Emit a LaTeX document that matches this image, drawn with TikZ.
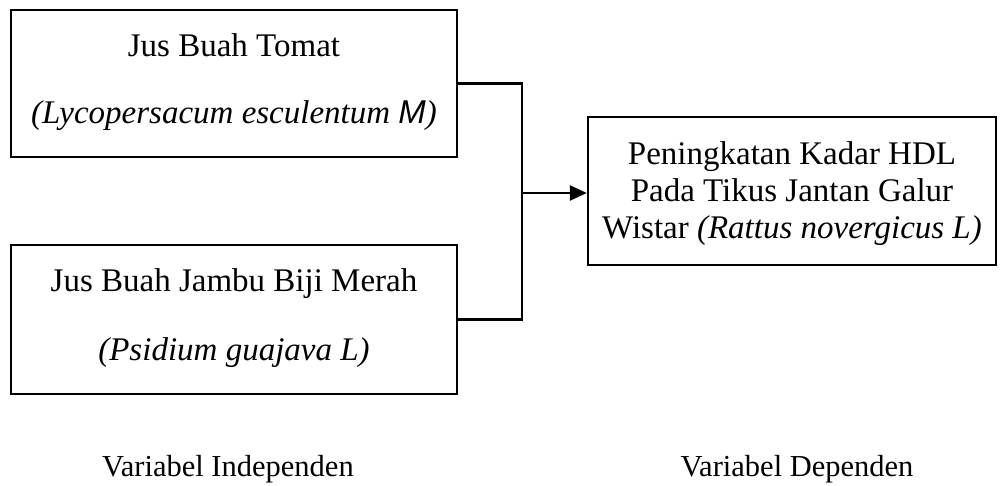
\documentclass[tikz,border=0pt]{standalone}
\usepackage{fontspec}
\setmainfont{Liberation Serif}
\newfontfamily\arialfont{Liberation Sans}
\usetikzlibrary{arrows.meta}
\begin{document}
\begin{tikzpicture}[x=1pt,y=-1pt,
  box/.style={draw, line width=2.3pt, inner sep=0pt},
  txt/.style={anchor=base, inner sep=0pt, font=\fontsize{33}{38}\selectfont},
  lbl/.style={anchor=base, inner sep=0pt, font=\fontsize{30.5}{36}\selectfont},
  conn/.style={line width=2.3pt},
]
\useasboundingbox (0,0) rectangle (1003,486);
\node[box, minimum width=446pt, minimum height=147pt] (b1) at (234,83.5) {};
\node[box, minimum width=446pt, minimum height=149pt] (b2) at (234,319.5) {};
\node[box, minimum width=408pt, minimum height=148pt] (b3) at (792,191) {};

\node[txt] (t1a) at (234,57) {Jus Buah Tomat};
\node[txt] (t1b) at (234,124) {\textit{(Lycopersacum esculentum {\arialfont M})}};
\node[txt] (t2a) at (234,291) {Jus Buah Jambu Biji Merah};
\node[txt] (t2b) at (234,360) {\textit{(Psidium guajava L)}};
\node[txt] (t3a) at (792,165) {Peningkatan Kadar HDL};
\node[txt] (t3b) at (792,202) {Pada Tikus Jantan Galur};
\node[txt] (t3c) at (792,239) {Wistar \textit{(Rattus novergicus L)}};

\node[lbl] (l1) at (228,476) {Variabel Independen};
\node[lbl] (l2) at (797,476) {Variabel Dependen};

\coordinate (j) at (522,0);
\coordinate (jm) at (522,193);
\draw[conn] (b1.east) -- (b1.east -| j) |- (b2.east);
\draw[conn, -{Triangle[length=17pt,width=15pt]}] (jm) -- (b3.west |- jm);
\end{tikzpicture}
\end{document}
